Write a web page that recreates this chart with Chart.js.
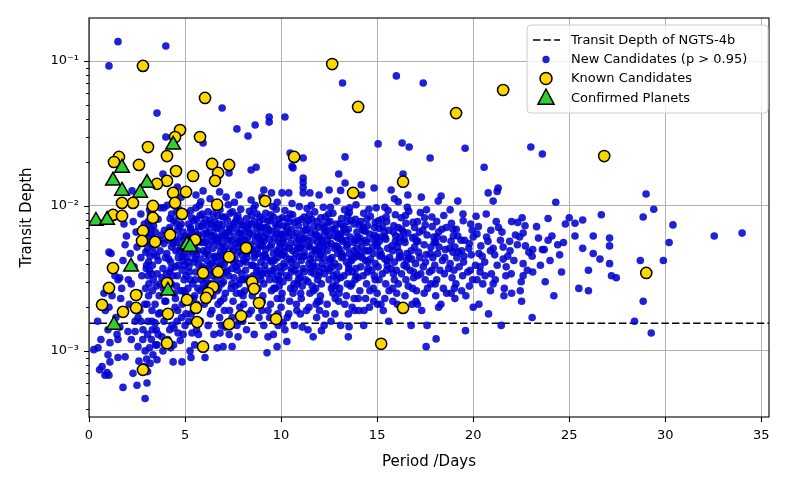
<!DOCTYPE html>
<html>
<head>
<meta charset="utf-8">
<script src="https://cdn.jsdelivr.net/npm/chart.js@4.4.1/dist/chart.umd.min.js"></script>
<style>
  html, body { margin: 0; padding: 0; background: #fff; }
  #wrap { width: 789px; height: 488px; }
</style>
</head>
<body>
<div id="wrap"><canvas id="chart" width="789" height="488"></canvas></div>
<script>
// ---- axes ----
var xRange = [0, 35.4];
var yRange = [0.00035, 0.198];
var xTicks = [0, 5, 10, 15, 20, 25, 30, 35];
var yTicks = [0.001, 0.01, 0.1];
var yTickLabels = ['10\u207B\u00B3', '10\u207B\u00B2', '10\u207B\u00B9'];
var legendLabels = ['Transit Depth of NGTS-4b', 'New Candidates (p > 0.95)', 'Known Candidates', 'Confirmed Planets'];
var ngtsDepth = 0.00155;

// ---- new candidates [period, depth] ----
var newCandOutliers = [
    [1.04,0.0925],[1.51,0.136],[4.0,0.127],[3.54,0.0437],[6.93,0.0474],[7.7,0.034],[8.28,0.0304],[8.65,0.0362],
    [9.38,0.0411],[9.38,0.0379],[10.2,0.0411],[10.47,0.0232],[10.62,0.0183],[11.15,0.0214],[4.0,0.0299],[5.94,0.0272],
    [13.2,0.0705],[16.0,0.0789],[17.4,0.0705],[15.05,0.0268],[16.3,0.0272],[16.67,0.0255],[19.58,0.025],[13.33,0.0218],
    [17.76,0.0214],[20.57,0.0185],[23.0,0.0255],[23.6,0.0228],[29.0,0.0121],[34.0,0.0065],[32.55,0.0062]
];
var newCandLeft = [
    [0.25,0.00102],[0.47,0.00105],[0.55,0.00074],[0.68,0.00078],[0.78,0.0025],[0.83,0.00068],[0.94,0.00071],[0.99,0.00094],[0.99,0.0014],[0.62,0.0012],[0.85,0.0019],[0.45,0.0016],
    [1.04,0.00068],[1.04,0.002],[1.04,0.0048],[1.09,0.00084],[1.09,0.00114],[1.15,0.0047],[1.46,0.0013],[1.51,0.0012],[1.51,0.0009],[1.51,0.0031],[1.6,0.0032],[1.61,0.00146],[1.77,0.0042],[1.77,0.00056],[1.82,0.0075],[1.88,0.00091],[1.88,0.0054],[1.2,0.0024],[1.35,0.0033],[1.7,0.0027],[1.9,0.0019],[1.95,0.0062],[1.4,0.0017],[1.65,0.0023],
    [2.03,0.00136],[2.29,0.0007],[2.4,0.00136],[2.4,0.0016],[2.5,0.00058],[2.55,0.00107],[2.55,0.0017],[2.81,0.0014],[2.92,0.001],[2.92,0.00047],[2.1,0.0021],[2.2,0.0029],[2.35,0.0038],[2.5,0.0052],[2.6,0.0025],[2.7,0.0044],[2.75,0.0033],[2.85,0.0061],[2.9,0.0021],[2.95,0.0027],[2.88,0.0075],[2.7,0.0088],[2.3,0.0078],[2.15,0.0047],[2.65,0.0019],[2.98,0.0037],[2.96,0.0048],[2.92,0.0056],[2.99,0.0068],[2.8,0.0012],[2.6,0.00085],[2.9,0.00078],[2.05,0.0031],[2.45,0.0066],[2.24,0.0127],
    [3.02,0.0006],[3.07,0.0016],[3.28,0.0019],[3.33,0.00094],[3.44,0.0021],[3.44,0.00156],[3.54,0.00087],[3.54,0.0011],[3.7,0.00183],[3.8,0.00125],[3.85,0.001],[3.05,0.0013],[3.1,0.0024],[3.12,0.0029],[3.08,0.0033],[3.15,0.0036],[3.1,0.0041],[3.18,0.0045],[3.05,0.005],[3.2,0.0055],[3.12,0.0061],[3.25,0.0069],[3.08,0.0078],[3.2,0.0087],[3.15,0.0094],[3.3,0.0026],[3.35,0.0031],[3.3,0.0039],[3.38,0.0047],[3.32,0.0052],[3.4,0.0059],[3.36,0.0073],[3.5,0.0028],[3.55,0.0034],[3.6,0.0042],[3.65,0.0024],[3.7,0.0049],[3.75,0.0063],[3.8,0.0032],[3.85,0.0037],[3.9,0.0055],[3.95,0.0022],[3.6,0.0081],[3.9,0.0097],[3.5,0.0014],[3.25,0.0012],[3.18,0.00082],[3.05,0.00072],[3.45,0.0066],[3.7,0.0029],[3.98,0.0044],[3.85,0.0166],
    [4.38,0.00084],[4.43,0.00144],[4.48,0.002],[4.58,0.0016],[4.64,0.00133],[4.84,0.00084],[4.05,0.0018],[4.1,0.0026],[4.15,0.0031],[4.2,0.0035],[4.25,0.0041],[4.05,0.0047],[4.3,0.0052],[4.15,0.0058],[4.35,0.0064],[4.2,0.0071],[4.4,0.0079],[4.3,0.0088],[4.5,0.0023],[4.55,0.0028],[4.6,0.0033],[4.5,0.0038],[4.65,0.0044],[4.7,0.0049],[4.55,0.0056],[4.75,0.0061],[4.6,0.0068],[4.8,0.0075],[4.7,0.0094],[4.85,0.0021],[4.9,0.0026],[4.95,0.0031],[4.85,0.0036],[4.9,0.0042],[4.98,0.0053],[4.9,0.0058],[4.1,0.0012],[4.25,0.00105],[4.75,0.00118],[4.0,0.0022],[4.45,0.0108],[4.8,0.0115],[4.6,0.0135]
];
var newCandMid = [
    [5.0,0.0015],[5.26,0.001],[5.31,0.0009],[5.36,0.00133],[5.05,0.0018],[5.1,0.0022],[5.15,0.0027],[5.05,0.0033],[5.2,0.0038],[5.1,0.0044],[5.25,0.0049],[5.15,0.0061],[5.3,0.0068],[5.2,0.0075],[5.35,0.0083],[5.3,0.0093],[5.45,0.0019],[5.5,0.0024],[5.4,0.0029],[5.55,0.0035],[5.45,0.0041],[5.6,0.0046],[5.5,0.0053],[5.65,0.0059],[5.55,0.0066],[5.7,0.0072],[5.6,0.0081],[5.75,0.0101],[5.8,0.0026],[5.85,0.0031],[5.9,0.0038],[5.8,0.0043],[5.95,0.0049],[5.85,0.0056],[5.95,0.0064],[5.9,0.0088],[5.57,0.0119],[5.8,0.0016],[5.7,0.0013],
    [6.04,0.0009],[6.67,0.00105],[6.98,0.00107],[6.82,0.00133],[6.0,0.0021],[6.05,0.0027],[6.1,0.0032],[6.0,0.0037],[6.15,0.0042],[6.05,0.0047],[6.2,0.0054],[6.1,0.0059],[6.25,0.0066],[6.15,0.0073],[6.3,0.008],[6.2,0.0091],[6.4,0.0019],[6.45,0.0024],[6.35,0.0029],[6.5,0.0035],[6.4,0.004],[6.55,0.0045],[6.45,0.0051],[6.6,0.0057],[6.5,0.0063],[6.65,0.007],[6.55,0.0078],[6.7,0.0086],[6.6,0.0098],[6.8,0.0017],[6.85,0.0022],[6.75,0.0027],[6.9,0.0033],[6.8,0.0038],[6.95,0.0043],[6.85,0.0048],[6.95,0.0055],[6.8,0.0061],[6.9,0.0068],[6.75,0.0075],[6.95,0.0084],[5.94,0.0127],[6.3,0.0112],[6.8,0.0125],
    [7.08,0.00146],[7.45,0.00107],[7.76,0.00125],[7.29,0.0169],[7.14,0.0115],[7.8,0.0119],[7.05,0.0019],[7.1,0.0025],[7.0,0.003],[7.15,0.0035],[7.05,0.004],[7.2,0.0046],[7.1,0.0052],[7.25,0.0058],[7.15,0.0065],[7.3,0.0072],[7.2,0.008],[7.35,0.0089],[7.25,0.0102],[7.45,0.0017],[7.5,0.0022],[7.4,0.0027],[7.55,0.0032],[7.45,0.0037],[7.6,0.0043],[7.5,0.0049],[7.65,0.0055],[7.55,0.0062],[7.7,0.0069],[7.6,0.0077],[7.75,0.0086],[7.85,0.002],[7.9,0.0025],[7.8,0.0029],[7.95,0.0034],[7.85,0.004],[7.95,0.0046],[7.8,0.0052],[7.9,0.0059],[7.85,0.0065],[7.95,0.0074],[7.9,0.0095],
    [8.44,0.0177],[8.7,0.0185],[8.44,0.011],[9.0,0.0115],[8.0,0.0016],[8.05,0.0021],[8.1,0.0026],[8.0,0.0031],[8.15,0.0036],[8.05,0.0042],[8.2,0.0047],[8.1,0.0054],[8.25,0.006],[8.15,0.0067],[8.3,0.0074],[8.2,0.0082],[8.35,0.0092],[8.45,0.0019],[8.5,0.0024],[8.4,0.0028],[8.55,0.0033],[8.45,0.0039],[8.6,0.0044],[8.5,0.005],[8.65,0.0057],[8.55,0.0063],[8.7,0.007],[8.6,0.0078],[8.75,0.0088],[8.65,0.0101],[8.85,0.0017],[8.9,0.0022],[8.8,0.0027],[8.95,0.0031],[8.85,0.0036],[8.95,0.0041],[8.8,0.0047],[8.9,0.0053],[8.85,0.006],[8.95,0.0066],[8.8,0.0073],[8.9,0.0084],
    [9.32,0.00125],[9.27,0.00097],[9.79,0.00107],[9.8,0.0106],[9.5,0.0123],[9.1,0.0129],[9.0,0.0019],[9.05,0.0024],[9.1,0.0029],[9.0,0.0034],[9.15,0.0039],[9.05,0.0045],[9.2,0.005],[9.1,0.0057],[9.25,0.0064],[9.15,0.0071],[9.3,0.0079],[9.2,0.0089],[9.4,0.0017],[9.45,0.0021],[9.5,0.0026],[9.4,0.0031],[9.55,0.0036],[9.45,0.0042],[9.6,0.0047],[9.5,0.0054],[9.65,0.006],[9.55,0.0067],[9.7,0.0075],[9.6,0.0084],[9.75,0.0095],[9.85,0.0015],[9.8,0.0023],[9.9,0.0028],[9.85,0.0033],[9.95,0.0038],[9.8,0.0044],[9.9,0.0051],[9.85,0.0057],[9.95,0.0064],[9.8,0.0071],[9.9,0.0081],
    [10.1,0.00156],[10.3,0.00116],[10.57,0.0188],[10.05,0.0123],[10.4,0.0123],[10.0,0.002],[10.05,0.0025],[10.1,0.003],[10.0,0.0035],[10.15,0.004],[10.05,0.0046],[10.2,0.0052],[10.1,0.0059],[10.25,0.0066],[10.15,0.0073],[10.3,0.0082],[10.2,0.0093],[10.4,0.0018],[10.45,0.0022],[10.5,0.0027],[10.4,0.0032],[10.55,0.0037],[10.45,0.0043],[10.6,0.0049],[10.5,0.0055],[10.65,0.0062],[10.55,0.0069],[10.7,0.0077],[10.6,0.0087],[10.8,0.0021],[10.85,0.0029],[10.9,0.0034],[10.8,0.0039],[10.95,0.0045],[10.85,0.0051],[10.95,0.0058],[10.8,0.0065],[10.9,0.0073],[10.95,0.0099],
    [11.1,0.00146],[11.67,0.00125],[11.15,0.0156],[11.15,0.0145],[11.15,0.0134],[11.15,0.0123],[11.5,0.0123],[11.98,0.0119],[11.0,0.0018],[11.05,0.0023],[11.1,0.0028],[11.0,0.0032],[11.15,0.0037],[11.05,0.0042],[11.2,0.0048],[11.1,0.0054],[11.25,0.006],[11.15,0.0067],[11.3,0.0075],[11.2,0.0084],[11.35,0.0096],[11.45,0.002],[11.5,0.0025],[11.4,0.003],[11.55,0.0035],[11.45,0.004],[11.6,0.0046],[11.5,0.0052],[11.65,0.0058],[11.55,0.0065],[11.7,0.0072],[11.6,0.0081],[11.75,0.0091],[11.85,0.0017],[11.9,0.0022],[11.8,0.0027],[11.95,0.0033],[11.85,0.0038],[11.95,0.0044],[11.8,0.005],[11.9,0.0056],[11.85,0.0063],[11.95,0.0071]
];
var newCandRight = [
    [12.1,0.00138],[12.24,0.0015],[12.5,0.0129],[12.7,0.0025],[12.0,0.0019],[12.05,0.0024],[12.1,0.0029],[12.0,0.0035],[12.15,0.004],[12.05,0.0046],[12.2,0.0053],[12.1,0.0059],[12.25,0.0066],[12.15,0.0074],[12.3,0.0084],[12.2,0.0098],[12.4,0.0021],[12.5,0.0031],[12.45,0.0037],[12.55,0.0043],[12.4,0.0049],[12.6,0.0055],[12.5,0.0062],[12.65,0.0069],[12.55,0.0078],[12.7,0.0089],[12.8,0.0018],[12.85,0.0028],[12.9,0.0034],[12.8,0.004],[12.95,0.0047],[12.85,0.0053],[12.95,0.006],[12.8,0.0069],[12.9,0.0108],
    [13.5,0.00125],[13.54,0.00147],[13.5,0.0018],[13.7,0.002],[13.0,0.0166],[13.33,0.0144],[13.1,0.0128],[13.0,0.0022],[13.05,0.0027],[13.1,0.0032],[13.0,0.0038],[13.15,0.0044],[13.05,0.005],[13.2,0.0057],[13.1,0.0064],[13.25,0.0072],[13.15,0.0082],[13.3,0.0094],[13.4,0.0024],[13.45,0.0029],[13.5,0.0035],[13.4,0.0041],[13.55,0.0047],[13.45,0.0054],[13.6,0.0061],[13.5,0.0069],[13.65,0.0079],[13.55,0.009],[13.8,0.0023],[13.85,0.0031],[13.9,0.0037],[13.8,0.0044],[13.95,0.0051],[13.85,0.0058],[13.95,0.0066],[13.8,0.0075],[13.9,0.0102],
    [14.3,0.0015],[14.6,0.002],[14.17,0.014],[14.84,0.0133],[14.2,0.0119],[14.05,0.0019],[14.1,0.0026],[14.0,0.0032],[14.15,0.0038],[14.05,0.0045],[14.2,0.0052],[14.1,0.006],[14.25,0.0068],[14.15,0.0078],[14.3,0.0089],[14.4,0.0023],[14.45,0.0029],[14.5,0.0035],[14.4,0.0042],[14.55,0.0049],[14.45,0.0056],[14.6,0.0064],[14.5,0.0073],[14.65,0.0085],[14.8,0.0027],[14.85,0.0033],[14.9,0.004],[14.8,0.0047],[14.95,0.0055],[14.85,0.0063],[14.9,0.0077],[14.95,0.0097],
    [15.73,0.0129],[15.4,0.0098],[15.9,0.0112],[15.6,0.0016],[15.2,0.0021],[15.0,0.0025],[15.1,0.0031],[15.05,0.0038],[15.15,0.0045],[15.0,0.0053],[15.2,0.0061],[15.1,0.007],[15.25,0.0081],[15.4,0.0023],[15.45,0.0029],[15.5,0.0036],[15.4,0.0043],[15.55,0.0051],[15.45,0.0059],[15.6,0.0068],[15.5,0.0078],[15.8,0.0027],[15.85,0.0034],[15.9,0.0041],[15.8,0.0049],[15.95,0.0057],[15.85,0.0066],[15.95,0.0087],
    [16.35,0.0166],[16.1,0.0107],[16.6,0.0119],[16.77,0.0015],[16.05,0.0021],[16.1,0.0029],[16.0,0.0036],[16.15,0.0044],[16.05,0.0052],[16.2,0.0061],[16.1,0.0071],[16.25,0.0083],[16.45,0.0024],[16.5,0.0031],[16.4,0.0039],[16.55,0.0047],[16.45,0.0056],[16.6,0.0065],[16.5,0.0076],[16.65,0.0092],[16.85,0.0027],[16.9,0.0035],[16.8,0.0043],[16.95,0.0052],[16.85,0.006],[16.95,0.0071],
    [17.55,0.00107],[17.6,0.0015],[17.1,0.0021],[17.3,0.0115],[17.05,0.0026],[17.1,0.0033],[17.0,0.004],[17.15,0.0048],[17.05,0.0057],[17.2,0.0066],[17.1,0.0078],[17.25,0.009],[17.45,0.0025],[17.5,0.0031],[17.4,0.0038],[17.55,0.0046],[17.45,0.0054],[17.6,0.0063],[17.5,0.0074],[17.8,0.0029],[17.85,0.0036],[17.9,0.0044],[17.8,0.0052],[17.95,0.0061],[17.85,0.0084],
    [18.07,0.00121],[18.33,0.0117],[18.18,0.0108],[18.8,0.0094],[18.2,0.002],[18.05,0.0024],[18.1,0.0031],[18.0,0.0039],[18.15,0.0047],[18.05,0.0056],[18.2,0.0066],[18.1,0.0078],[18.45,0.0027],[18.5,0.0034],[18.4,0.0042],[18.55,0.005],[18.45,0.0059],[18.6,0.0071],[18.85,0.0025],[18.9,0.0032],[18.8,0.004],[18.95,0.0048],[18.85,0.0057],[18.95,0.0069],
    [19.6,0.00138],[19.48,0.0079],[19.2,0.0108],[19.05,0.0023],[19.1,0.0029],[19.0,0.0036],[19.15,0.0044],[19.05,0.0052],[19.2,0.0062],[19.4,0.0026],[19.45,0.0033],[19.5,0.0041],[19.4,0.0049],[19.55,0.0058],[19.8,0.0028],[19.85,0.0036],[19.9,0.0046],[19.8,0.0055],[19.95,0.0068],[20.0,0.002],[20.3,0.0021],
    [20.78,0.0123],[20.68,0.0088],[20.7,0.0061],[20.2,0.0064],[20.0,0.0061],[20.6,0.0041],[20.36,0.0038],[20.36,0.0035],[20.8,0.0018],[20.3,0.0047],[20.5,0.0029],[20.9,0.0026],[20.2,0.0031],[20.4,0.0053],[20.9,0.0049],[20.15,0.0085],[20.95,0.0034],
    [21.25,0.0126],[21.3,0.0133],[21.04,0.0108],[21.2,0.0078],[22.0,0.0078],[21.5,0.0066],[21.56,0.0052],[21.04,0.0051],[21.25,0.0039],[21.8,0.0045],[21.56,0.0043],[21.98,0.0034],[21.7,0.0033],[21.15,0.0031],[21.04,0.0029],[22.0,0.0025],[21.46,0.0015],[21.6,0.0024],[21.9,0.0057],
    [22.55,0.0083],[22.7,0.0073],[22.2,0.0063],[22.6,0.0065],[22.3,0.0054],[22.6,0.004],[22.5,0.003],[22.6,0.0033],[22.45,0.0026],[22.9,0.0048],
    [23.4,0.006],[24.1,0.0062],[24.4,0.0054],[23.6,0.005],[23.1,0.005],[23.07,0.0045],[23.1,0.0035],[23.75,0.003],[23.07,0.0017],[24.3,0.0106],[24.0,0.0042],[24.6,0.0035],[23.9,0.0082],[24.8,0.0075],[24.2,0.0024],[24.7,0.0056],[23.7,0.005],
    [25.0,0.0083],[25.3,0.0076],[25.7,0.008],[26.67,0.0087],[25.3,0.0062],[26.25,0.0062],[27.1,0.006],[27.1,0.0053],[25.7,0.0051],[26.25,0.0047],[26.6,0.0043],[27.1,0.004],[26.0,0.0036],[27.2,0.0033],[27.45,0.0032],[25.5,0.0027],[26.0,0.0026],
    [29.4,0.0095],[28.85,0.0084],[30.4,0.0074],[30.2,0.0056],[29.9,0.0042],[28.7,0.0042],[28.85,0.0022],[28.4,0.0016],[29.27,0.00133]
];
// extra points filling the dense core of the cloud
var newCandCore = [
    [3.02,0.0021],[3.27,0.0034],[3.52,0.0045],[3.77,0.0058],[3.12,0.0072],[3.37,0.0085],[3.62,0.0018],[3.87,0.0027],[3.0,0.0039],[3.22,0.0064],[3.47,0.0011],[3.72,0.0097],[3.15,0.00105],[3.0,0.00088],[3.28,0.0016],[3.93,0.0068],
    [4.02,0.0028],[4.27,0.0037],[4.52,0.0049],[4.77,0.0026],[4.12,0.0063],[4.37,0.0033],[4.62,0.0019],[4.87,0.0045],[4.22,0.0082],[4.47,0.0058],[4.72,0.0072],[4.97,0.0039],[4.32,0.0015],[4.57,0.0092],[4.82,0.0017],[4.07,0.0101],
    [5.02,0.0025],[5.27,0.0031],[5.52,0.0043],[5.77,0.0057],[5.12,0.0051],[5.37,0.0064],[5.62,0.0021],[5.87,0.0072],[5.22,0.0035],[5.47,0.0079],[5.72,0.0039],[5.97,0.0029],[5.32,0.0018],[5.57,0.0097],[5.82,0.0107],[5.07,0.0089],[5.42,0.0047],[5.67,0.0027],
    [6.02,0.0024],[6.27,0.0036],[6.52,0.0044],[6.77,0.0053],[6.12,0.0065],[6.37,0.0075],[6.62,0.0031],[6.87,0.0039],[6.22,0.0046],[6.47,0.0088],[6.72,0.0021],[6.97,0.0062],[6.32,0.0018],[6.57,0.0105],[6.82,0.0094],[6.07,0.0081],[6.42,0.0057],[6.67,0.0026],
    [7.02,0.0023],[7.27,0.0033],[7.52,0.0041],[7.77,0.0048],[7.12,0.0061],[7.37,0.0069],[7.62,0.0028],[7.87,0.0079],[7.22,0.0044],[7.47,0.0091],[7.72,0.0036],[7.97,0.0055],[7.32,0.0019],[7.57,0.0106],[7.82,0.0016],[7.07,0.0084],[7.42,0.0052],[7.67,0.0025],
    [8.02,0.0024],[8.27,0.0032],[8.52,0.0039],[8.77,0.0051],[8.12,0.0058],[8.37,0.0065],[8.62,0.0029],[8.87,0.0077],[8.22,0.0044],[8.47,0.0086],[8.72,0.0035],[8.97,0.0057],[8.32,0.0018],[8.57,0.0096],[8.82,0.0021],[8.07,0.0073],[8.42,0.0049],[8.67,0.0026],
    [9.02,0.0022],[9.27,0.0034],[9.52,0.0041],[9.77,0.0049],[9.12,0.0061],[9.37,0.0068],[9.62,0.0027],[9.87,0.0075],[9.22,0.0044],[9.47,0.0087],[9.72,0.0031],[9.97,0.0055],[9.32,0.0019],[9.57,0.0099],[9.82,0.0018],[9.07,0.0081],[9.42,0.0052],[9.67,0.0037],
    [10.02,0.0023],[10.27,0.0033],[10.52,0.0041],[10.77,0.0047],[10.12,0.0056],[10.37,0.0066],[10.62,0.0025],[10.87,0.0079],[10.22,0.0045],[10.47,0.0088],[10.72,0.0036],[10.97,0.0061],[10.32,0.0017],[10.57,0.0104],[10.82,0.0019],[10.07,0.0083],[10.42,0.0051],[10.67,0.0029],
    [11.02,0.0025],[11.27,0.0031],[11.52,0.0043],[11.77,0.0049],[11.12,0.0059],[11.37,0.0069],[11.62,0.0028],[11.87,0.0078],[11.22,0.0045],[11.47,0.0087],[11.72,0.0034],[11.97,0.0061],[11.32,0.0019],[11.57,0.0101],[11.82,0.0021],[11.07,0.0081],[11.42,0.0053],[11.67,0.0038],
    [12.02,0.0022],[12.27,0.0034],[12.52,0.0041],[12.77,0.0051],[12.12,0.0057],[12.37,0.0067],[12.62,0.0027],[12.87,0.0075],[12.22,0.0044],[12.47,0.0088],[12.72,0.0033],[12.97,0.0064],[12.32,0.0018],[12.57,0.0098],[12.82,0.0023],[12.07,0.0083],[12.42,0.0054],[12.67,0.0038],
    [13.02,0.0025],[13.27,0.0033],[13.52,0.0039],[13.77,0.0049],[13.12,0.0059],[13.37,0.0066],[13.62,0.0028],[13.87,0.0081],[13.22,0.0045],[13.47,0.0086],[13.72,0.0035],[13.97,0.0061],[13.32,0.0021],[13.57,0.0097],[13.82,0.0019],[13.07,0.0075],[13.42,0.0052],[13.67,0.0042],
    [14.02,0.0023],[14.27,0.0033],[14.52,0.0041],[14.77,0.0052],[14.12,0.0057],[14.37,0.0067],[14.62,0.0026],[14.87,0.0071],[14.22,0.0044],[14.47,0.0081],[14.72,0.0036],[14.97,0.0061],[14.32,0.0019],[14.57,0.0095],[14.82,0.0022],[14.07,0.0074],[14.42,0.0049],
    [15.02,0.0021],[15.27,0.0034],[15.52,0.0042],[15.77,0.0053],[15.12,0.0057],[15.37,0.0066],[15.62,0.0026],[15.87,0.0073],[15.22,0.0046],[15.47,0.0084],[15.72,0.0037],[15.97,0.0062],[15.32,0.0019],[15.57,0.0093],[15.82,0.0022],[15.07,0.0079],
    [16.02,0.0025],[16.27,0.0034],[16.52,0.0042],[16.77,0.0049],[16.12,0.0056],[16.37,0.0066],[16.62,0.0028],[16.87,0.0077],[16.22,0.0045],[16.47,0.0086],[16.72,0.0036],[16.97,0.0061],[16.32,0.002],[16.57,0.0098],[16.82,0.0021],
    [17.02,0.0022],[17.27,0.0034],[17.52,0.0041],[17.77,0.0047],[17.12,0.0057],[17.37,0.0068],[17.62,0.0027],[17.87,0.0072],[17.22,0.0044],[17.47,0.0083],[17.72,0.0035],[17.97,0.0056],[17.32,0.0019],[17.57,0.0094],
    [18.02,0.0029],[18.27,0.0036],[18.52,0.0044],[18.77,0.0051],[18.12,0.0061],[18.37,0.0069],[18.62,0.0025],[18.87,0.0076],[18.22,0.0052],[18.47,0.0086],[18.72,0.0037],[18.97,0.0062],[18.32,0.0021],
    [19.02,0.0027],[19.27,0.0038],[19.52,0.0045],[19.77,0.0051],[19.12,0.0069],[19.37,0.0058],[19.62,0.0024],[19.87,0.0075],[19.22,0.0048],[19.47,0.0088],[19.72,0.0035],[19.97,0.0031],
    [20.12,0.0039],[20.47,0.0045],[20.77,0.0057],[20.27,0.0072],[20.62,0.0033],[20.92,0.0068],[21.12,0.0046],[21.42,0.0058],[21.72,0.0038],[21.32,0.0071],[21.62,0.0027],[21.92,0.0049],[22.12,0.0042],[22.42,0.0061],[22.82,0.0036],[22.32,0.0077],[22.72,0.0053],[22.52,0.0022],[23.3,0.0072],[23.5,0.0039],[23.9,0.0058],[24.5,0.0046],
    [3.6,0.0013],[3.9,0.0016],[4.2,0.0014],[4.9,0.0013],[5.2,0.0016],[5.6,0.0014],[6.2,0.0015],[6.5,0.0013],[6.9,0.0015],[7.3,0.0013],[7.7,0.0015],[8.2,0.0014],[8.6,0.0013],[9.1,0.0015],[9.6,0.0013],[10.2,0.0014],[10.7,0.0015],[11.4,0.0014],[12.6,0.0016],[13.1,0.0015],[4.4,0.0011],[5.5,0.0011],[3.3,0.0014],[2.7,0.0016],[2.2,0.0012]
];
// second fill layer for the densest part (periods 4-17 days)
var newCandCore2 = [
    [4.15,0.0043],[4.4,0.0055],[4.65,0.0039],[4.9,0.0066],[4.28,0.0029],[4.53,0.0076],[4.78,0.0052],[4.03,0.0034],[4.44,0.0025],[4.69,0.0085],[4.94,0.0047],[4.19,0.0068],
    [5.15,0.0041],[5.4,0.0056],[5.65,0.0049],[5.9,0.0034],[5.28,0.0071],[5.53,0.0031],[5.78,0.0086],[5.03,0.0062],[5.44,0.0023],[5.69,0.0063],[5.94,0.0076],[5.19,0.0054],
    [6.15,0.0049],[6.4,0.0062],[6.65,0.0041],[6.9,0.0029],[6.28,0.0039],[6.53,0.0071],[6.78,0.0045],[6.03,0.0056],[6.44,0.0033],[6.69,0.0059],[6.94,0.0074],[6.19,0.0029],
    [7.15,0.0043],[7.4,0.0058],[7.65,0.0038],[7.9,0.0031],[7.28,0.0066],[7.53,0.0075],[7.78,0.0057],[7.03,0.0049],[7.44,0.0029],[7.69,0.0082],[7.94,0.0064],[7.19,0.0036],
    [8.15,0.0041],[8.4,0.0054],[8.65,0.0046],[8.9,0.0033],[8.28,0.0069],[8.53,0.0029],[8.78,0.0062],[8.03,0.0051],[8.44,0.0075],[8.69,0.0038],[8.94,0.0071],[8.19,0.0031],
    [9.15,0.0046],[9.4,0.0059],[9.65,0.0042],[9.9,0.0031],[9.28,0.0071],[9.53,0.0034],[9.78,0.0064],[9.03,0.0053],[9.44,0.0079],[9.69,0.0027],[9.94,0.0047],[9.19,0.0036],
    [10.15,0.0048],[10.4,0.0061],[10.65,0.0043],[10.9,0.0031],[10.28,0.0072],[10.53,0.0035],[10.78,0.0056],[10.03,0.0063],[10.44,0.0078],[10.69,0.0027],[10.94,0.0051],[10.19,0.0038],
    [11.15,0.0045],[11.4,0.0058],[11.65,0.0041],[11.9,0.0031],[11.28,0.0068],[11.53,0.0037],[11.78,0.0064],[11.03,0.0052],[11.44,0.0079],[11.69,0.0026],[11.94,0.0049],[11.19,0.0035],
    [12.15,0.0049],[12.4,0.0059],[12.65,0.0044],[12.9,0.0031],[12.28,0.0071],[12.53,0.0036],[12.78,0.0062],[12.03,0.0053],[12.44,0.0077],[12.69,0.0028],[12.94,0.0052],[12.19,0.0037],
    [13.15,0.0047],[13.4,0.0058],[13.65,0.0043],[13.9,0.0033],[13.28,0.0069],[13.53,0.0037],[13.78,0.0056],[13.03,0.0061],[13.44,0.0078],[13.69,0.0029],[13.94,0.0046],
    [14.15,0.0047],[14.4,0.0058],[14.65,0.0043],[14.9,0.0031],[14.28,0.0071],[14.53,0.0037],[14.78,0.0059],[15.15,0.0049],[15.4,0.0061],[15.65,0.0044],[15.9,0.0031],[15.28,0.0072],[15.53,0.0039],
    [16.15,0.0048],[16.4,0.0059],[16.65,0.0044],[16.9,0.0032],[16.28,0.0069],[16.53,0.0038]
];

// ---- known candidates [period, depth] ----
var knownCandidates = [
    [2.81,0.0925],[6.04,0.0556],[12.66,0.0953],[14.01,0.0482],[21.56,0.0631],[19.11,0.0437],[4.74,0.0334],[4.48,0.0299],
    [5.78,0.0299],[3.07,0.0255],[4.06,0.0221],[1.56,0.0218],[1.30,0.0201],[2.60,0.0192],[6.41,0.0195],[7.29,0.0192],
    [6.72,0.0169],[6.56,0.0149],[5.42,0.0161],[4.53,0.0174],[4.06,0.0149],[3.54,0.0142],[5.05,0.0125],[4.38,0.0123],
    [10.68,0.0218],[9.17,0.0108],[6.67,0.0102],[4.48,0.0105],[2.29,0.0105],[1.72,0.0105],[3.33,0.0100],[1.25,0.00867],
    [1.72,0.00853],[3.33,0.00827],[4.84,0.00881],[2.81,0.00673],[2.76,0.00574],[3.44,0.00565],[4.22,0.00631],[5.52,0.00583],
    [8.18,0.00513],[7.29,0.00445],[1.25,0.00373],[5.94,0.00345],[6.72,0.00351],[4.06,0.00294],[8.49,0.00299],[8.59,0.00268],
    [1.04,0.00272],[6.46,0.00276],[6.20,0.00251],[2.45,0.00243],[6.09,0.00232],[5.10,0.00225],[0.68,0.00208],[2.45,0.00198],
    [8.85,0.00214],[1.77,0.00186],[5.57,0.00198],[4.11,0.0018],[5.63,0.00158],[7.92,0.00174],[7.29,0.00153],[9.74,0.00166],
    [4.06,0.00113],[5.94,0.00107],[2.81,0.00074],[13.75,0.0123],[16.35,0.0147],[16.35,0.00198],[15.21,0.00112],[26.82,0.0221],
    [29.01,0.00345]
];

// ---- confirmed planets [period, depth] ----
var confirmedPlanets = [
    [0.36,0.00788],[0.94,0.008],[1.25,0.0149],[1.72,0.0183],[1.72,0.0127],[3.02,0.0144],[2.66,0.0123],
    [4.38,0.0264],[2.19,0.0038],[5.10,0.00539],[5.26,0.00522],[4.11,0.0026],[1.30,0.00151]
];

var FONT = 'DejaVu Sans';
var BLUE = 'rgba(0,0,208,0.87)', GOLD = '#ffd700', GREEN = '#32cd32';

function toPts(arr) { return arr.map(function(p){ return { x: p[0], y: p[1] }; }); }

function drawTri(ctx, x, y, r) {
    ctx.beginPath();
    ctx.moveTo(x, y - r);
    ctx.lineTo(x + r * 0.95, y + r * 0.8);
    ctx.lineTo(x - r * 0.95, y + r * 0.8);
    ctx.closePath();
}

// frame, tick marks and legend, drawn over the data like matplotlib does
var frameAndLegend = {
    id: 'frameAndLegend',
    afterDraw: function(chart) {
        var ctx = chart.ctx, a = chart.chartArea, xs = chart.scales.x, ys = chart.scales.y;
        ctx.save();
        ctx.strokeStyle = '#000';
        ctx.lineWidth = 1.1;
        ctx.strokeRect(a.left, a.top, a.right - a.left, a.bottom - a.top);

        ctx.beginPath();
        xTicks.forEach(function(v) {
            var px = Math.round(xs.getPixelForValue(v)) + 0.5;
            ctx.moveTo(px, a.bottom); ctx.lineTo(px, a.bottom + 5);
        });
        for (var e = -4; e <= -1; e++) {
            for (var m = 1; m <= 9; m++) {
                var v = m * Math.pow(10, e);
                if (v < yRange[0] || v > yRange[1]) continue;
                var py = Math.round(ys.getPixelForValue(v)) + 0.5;
                ctx.moveTo(a.left, py); ctx.lineTo(a.left - (m === 1 ? 5 : 3), py);
            }
        }
        ctx.stroke();

        // legend box
        var bx = 527, by = 25, bw = 241, bh = 88, rr = 4;
        ctx.beginPath();
        ctx.moveTo(bx + rr, by);
        ctx.arcTo(bx + bw, by, bx + bw, by + bh, rr);
        ctx.arcTo(bx + bw, by + bh, bx, by + bh, rr);
        ctx.arcTo(bx, by + bh, bx, by, rr);
        ctx.arcTo(bx, by, bx + bw, by, rr);
        ctx.closePath();
        ctx.fillStyle = 'rgba(255,255,255,0.8)';
        ctx.fill();
        ctx.strokeStyle = '#cccccc';
        ctx.lineWidth = 1;
        ctx.stroke();

        var rows = [40, 59.5, 78.5, 98], hx = 546;
        ctx.strokeStyle = '#000'; ctx.lineWidth = 1.6; ctx.setLineDash([7.4, 3.2]);
        ctx.beginPath(); ctx.moveTo(533, rows[0]); ctx.lineTo(560, rows[0]); ctx.stroke();
        ctx.setLineDash([]);
        ctx.fillStyle = BLUE;
        ctx.beginPath(); ctx.arc(hx, rows[1], 3.7, 0, Math.PI * 2); ctx.fill();
        ctx.fillStyle = GOLD; ctx.lineWidth = 1.5;
        ctx.beginPath(); ctx.arc(hx, rows[2], 6, 0, Math.PI * 2); ctx.fill(); ctx.stroke();
        ctx.fillStyle = GREEN;
        drawTri(ctx, hx, rows[3] - 0.5, 8.5); ctx.fill(); ctx.stroke();

        ctx.fillStyle = '#000';
        ctx.font = '13px "' + FONT + '"';
        ctx.textBaseline = 'middle';
        ctx.textAlign = 'left';
        legendLabels.forEach(function(t, i) { ctx.fillText(t, 571, rows[i] + 0.5); });
        ctx.restore();
    }
};

new Chart(document.getElementById('chart'), {
    type: 'scatter',
    data: {
        datasets: [
            { type: 'line', label: legendLabels[0], showLine: true,
              data: [{ x: xRange[0], y: ngtsDepth }, { x: xRange[1], y: ngtsDepth }],
              borderColor: '#000', borderWidth: 1.6, borderDash: [7.4, 3.2], pointRadius: 0, fill: false, order: 4 },
            { label: legendLabels[1],
              data: toPts(newCandOutliers.concat(newCandLeft, newCandMid, newCandRight, newCandCore, newCandCore2)),
              backgroundColor: BLUE, borderWidth: 0, pointRadius: 3.8, order: 3 },
            { label: legendLabels[2], data: toPts(knownCandidates),
              backgroundColor: GOLD, borderColor: '#000', borderWidth: 1.5, pointRadius: 5.6, order: 2 },
            { label: legendLabels[3], data: toPts(confirmedPlanets), pointStyle: 'triangle',
              backgroundColor: GREEN, borderColor: '#000', borderWidth: 1.5, pointRadius: 8.5, order: 1 }
        ]
    },
    options: {
        responsive: false,
        animation: false,
        events: [],
        layout: { padding: { left: 0, top: 18, right: 20, bottom: 0 } },
        plugins: { legend: { display: false }, tooltip: { enabled: false } },
        scales: {
            x: {
                type: 'linear', min: xRange[0], max: xRange[1],
                afterBuildTicks: function(s) { s.ticks = xTicks.map(function(v){ return { value: v }; }); },
                afterFit: function(s) { s.height = 71; },
                grid: { color: '#b0b0b0', lineWidth: 1, drawTicks: false },
                border: { display: false },
                ticks: { color: '#000', font: { family: FONT, size: 13 }, padding: 11, maxRotation: 0 },
                title: { display: true, text: 'Period /Days', color: '#000', font: { family: FONT, size: 15 }, padding: { top: 0, bottom: 17 } }
            },
            y: {
                type: 'logarithmic', min: yRange[0], max: yRange[1],
                afterBuildTicks: function(s) { s.ticks = yTicks.map(function(v){ return { value: v }; }); },
                afterFit: function(s) { s.width = 89; },
                grid: { color: '#b0b0b0', lineWidth: 1, drawTicks: false },
                border: { display: false },
                ticks: { color: '#000', font: { family: FONT, size: 13 }, padding: 10,
                         callback: function(v) { var i = yTicks.indexOf(v); return i < 0 ? '' : yTickLabels[i]; } },
                title: { display: true, text: 'Transit Depth', color: '#000', font: { family: FONT, size: 15 }, padding: { top: 18, bottom: 0 } }
            }
        }
    },
    plugins: [frameAndLegend]
});
</script>
</body>
</html>
